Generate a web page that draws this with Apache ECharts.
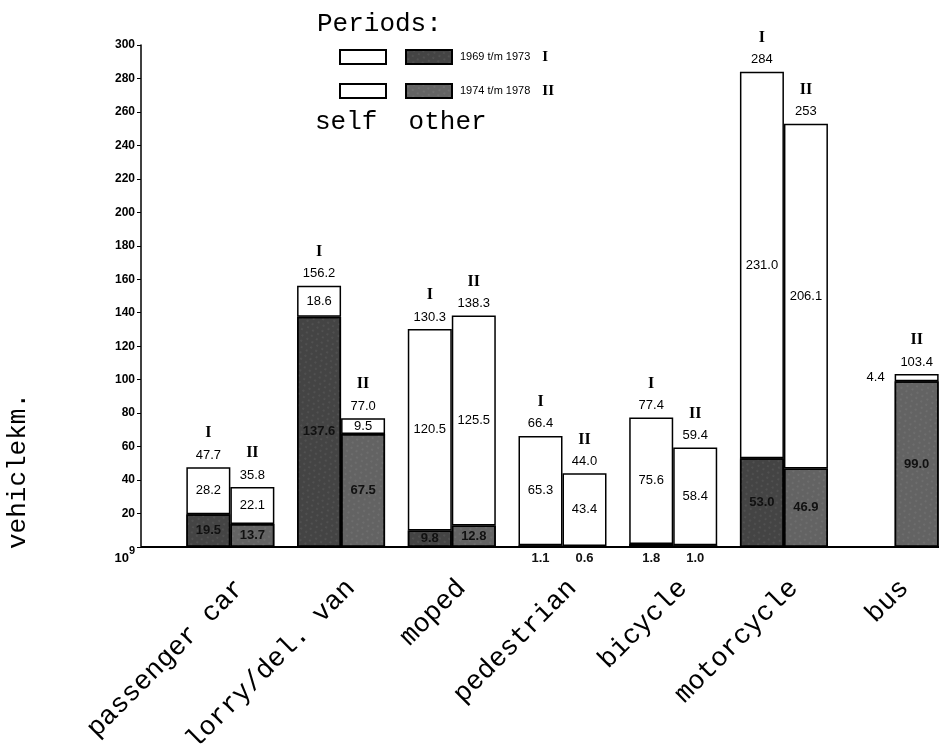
<!DOCTYPE html>
<html>
<head>
<meta charset="utf-8">
<script src="https://cdn.jsdelivr.net/npm/echarts@6/dist/echarts.min.js"></script>
<style>
html,body{margin:0;padding:0;background:#fff;}
#chart{width:939px;height:749px;}
</style>
</head>
<body>
<div id="chart"></div>
<script>
// ---- data (10^9 vehiclekm.) ----
const categories = ['passenger car', 'lorry/del. van', 'moped', 'pedestrian', 'bicycle', 'motorcycle', 'bus'];
const selfI   = [28.2, 18.6, 120.5, 65.3, 75.6, 231.0, null];
const otherI  = [19.5, 137.6, 9.8, 1.1, 1.8, 53.0, null];
const totalI  = [47.7, 156.2, 130.3, 66.4, 77.4, 284, null];
const selfII  = [22.1, 9.5, 125.5, 43.4, 58.4, 206.1, 4.4];
const otherII = [13.7, 67.5, 12.8, 0.6, 1.0, 46.9, 99.0];
const totalII = [35.8, 77.0, 138.3, 44.0, 59.4, 253, 103.4];
const periodLabels = ['1969 t/m 1973', '1974 t/m 1978'];
const romans = ['I', 'II'];
const yMin = 0, yMax = 300, yStep = 20;

// ---- layout ----
const W = 939, H = 749;
const GRID_LEFT = 175, GRID_WIDTH = 775, GRID_TOP = 45, GRID_BOTTOM = 202;
const AXIS_OFFSET = 34;
const MONO = '"Liberation Mono", "DejaVu Sans Mono", monospace';
const SANS = '"Liberation Sans", Arial, sans-serif';
const SERIF = '"Liberation Serif", "DejaVu Serif", serif';

const fmt = v => v.toFixed(1);
const fmtTotal = v => (Number.isInteger(v) && v >= 200) ? String(v) : v.toFixed(1);

function otherData(arr) {
  return arr.map(v => v == null ? null : {
    value: v,
    label: v < 5 ? { position: 'bottom', distance: 5 } : {}
  });
}
function selfData(arr) {
  return arr.map(v => v == null ? null : {
    value: v,
    label: v < 5 ? { position: 'left', distance: 10 } : {}
  });
}
function topData(tot) { return tot.map(t => t == null ? null : 0); }

const darkI = '#444444', darkII = '#636363';
const decal = {
  symbol: 'circle', symbolSize: 0.6, color: 'rgba(255,255,255,0.28)',
  dashArrayX: [[2, 4], [0, 2, 2, 2]], dashArrayY: [2, 3], rotation: 0.6
};
const barBorder = { borderColor: '#000', borderWidth: 1.5 };
const inLabel = { show: true, position: 'inside', color: '#000', fontFamily: SANS, fontSize: 13, formatter: p => fmt(p.value) };

function topSeries(stack, tot, roman) {
  return {
    name: 'total ' + roman, type: 'bar', stack: stack, barWidth: 44,
    data: topData(tot), itemStyle: { color: 'transparent', borderWidth: 0 },
    label: {
      show: true, position: 'top', distance: 4,
      formatter: p => '{r|' + roman + '}\n{t|' + fmtTotal(tot[p.dataIndex]) + '}',
      rich: {
        r: { fontFamily: SERIF, fontWeight: 'bold', fontSize: 16, color: '#000', lineHeight: 28 },
        t: { fontFamily: SANS, fontSize: 13, color: '#000', lineHeight: 16 }
      }
    },
    silent: true
  };
}

const option = {
  animation: false,
  backgroundColor: '#fff',
  title: [
    { text: 'Periods:', left: 312, top: 6, textStyle: { fontFamily: MONO, fontSize: 26, fontWeight: 'normal', color: '#000' } },
    { text: 'self  other', left: 310, top: 104, textStyle: { fontFamily: MONO, fontSize: 26, fontWeight: 'normal', color: '#000' } }
  ],
  legend: [0, 1].map(i => ({
    data: ['self ' + romans[i], 'other ' + romans[i]],
    left: 334, top: i === 0 ? 44 : 78,
    orient: 'horizontal', itemWidth: 46, itemHeight: 14, itemGap: 18,
    icon: 'rect', selectedMode: false,
    formatter: name => name.indexOf('other') === 0 ? '{p|' + periodLabels[i] + '}{r|' + romans[i] + '}' : '',
    textStyle: {
      rich: {
        p: { fontFamily: SANS, fontSize: 11, color: '#000', padding: [0, 0, 0, 3] },
        r: { fontFamily: SERIF, fontWeight: 'bold', fontSize: 15, color: '#000', padding: [0, 0, 0, 12] }
      }
    }
  })),
  grid: { left: GRID_LEFT, width: GRID_WIDTH, top: GRID_TOP, bottom: GRID_BOTTOM, outerBoundsMode: 'none', containLabel: false },
  xAxis: {
    type: 'category', data: categories,
    axisLine: { lineStyle: { color: '#000', width: 2 } },
    axisTick: { show: false },
    axisLabel: { rotate: 45, margin: 47, padding: [0, -14, 0, 0], fontFamily: MONO, fontSize: 27, color: '#000', interval: 0 }
  },
  yAxis: {
    type: 'value', min: yMin, max: yMax, interval: yStep, offset: AXIS_OFFSET,
    name: 'vehiclekm.', nameLocation: 'middle', nameRotate: 90, nameGap: 110,
    nameTextStyle: { fontFamily: MONO, fontSize: 26, color: '#000', padding: [0, 350, 0, 0] },
    axisLine: { show: true, lineStyle: { color: '#000', width: 1.5 } },
    axisTick: { show: true, length: 4, lineStyle: { color: '#000' } },
    splitLine: { show: false },
    axisLabel: {
      margin: 6, fontFamily: SANS, fontSize: 12, fontWeight: 'bold', color: '#000',
      formatter: v => v === 0 ? '{a|10}{b|9}' : String(v),
      rich: {
        a: { fontFamily: SANS, fontSize: 13, color: '#000', padding: [22, 0, 0, 0], verticalAlign: 'bottom' },
        b: { fontFamily: SANS, fontSize: 11, color: '#000', padding: [0, 0, 8, 0], verticalAlign: 'bottom' }
      }
    }
  },
  graphic: [{
    type: 'line', silent: true,
    shape: { x1: GRID_LEFT - AXIS_OFFSET, y1: H - GRID_BOTTOM, x2: GRID_LEFT + 6, y2: H - GRID_BOTTOM },
    style: { stroke: '#000', lineWidth: 2 }
  }],
  series: [
    { name: 'other I', type: 'bar', stack: 'I', barWidth: 44, barGap: '0%',
      data: otherData(otherI), itemStyle: Object.assign({ color: darkI, decal: decal }, barBorder),
      label: Object.assign({}, inLabel, { fontWeight: 'bold', color: '#111' }) },
    { name: 'self I', type: 'bar', stack: 'I', barWidth: 44,
      data: selfData(selfI), itemStyle: Object.assign({ color: '#fff' }, barBorder), label: inLabel },
    topSeries('I', totalI, 'I'),
    { name: 'other II', type: 'bar', stack: 'II', barWidth: 44,
      data: otherData(otherII), itemStyle: Object.assign({ color: darkII, decal: decal }, barBorder),
      label: Object.assign({}, inLabel, { fontWeight: 'bold', color: '#111' }) },
    { name: 'self II', type: 'bar', stack: 'II', barWidth: 44,
      data: selfData(selfII), itemStyle: Object.assign({ color: '#fff' }, barBorder), label: inLabel },
    topSeries('II', totalII, 'II')
  ]
};

const chart = echarts.init(document.getElementById('chart'), null, { renderer: 'canvas', width: W, height: H });
chart.setOption(option);
</script>
</body>
</html>
